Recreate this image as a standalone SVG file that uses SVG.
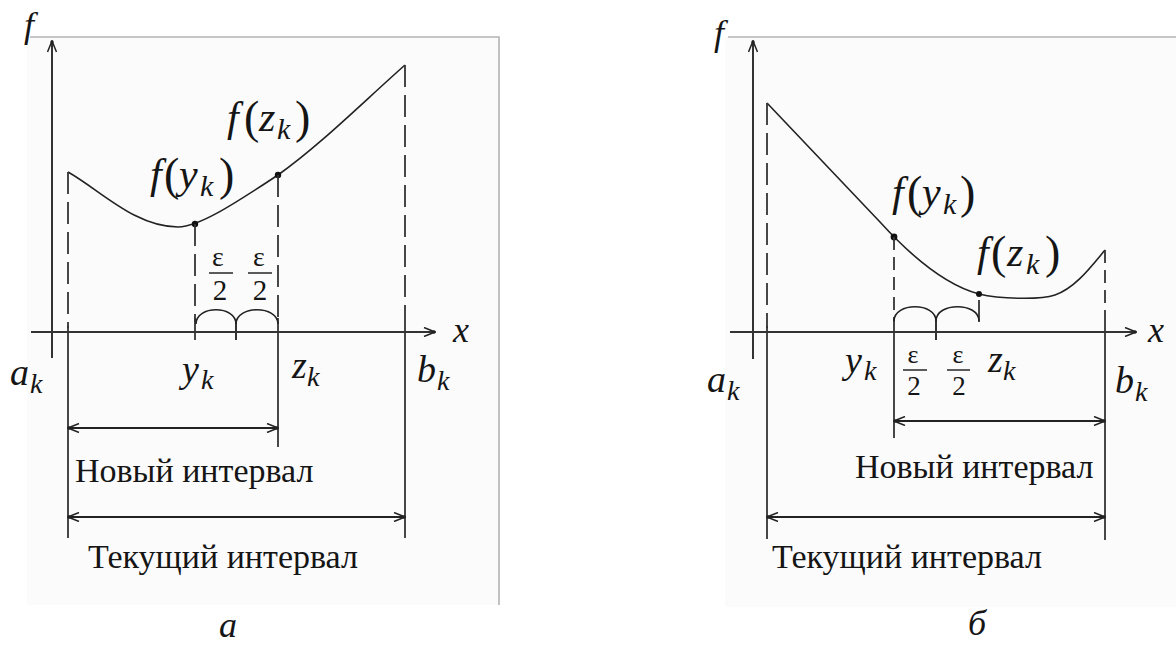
<svg xmlns="http://www.w3.org/2000/svg" width="1176" height="646" viewBox="0 0 1176 646" font-family="Liberation Serif, Times New Roman, DejaVu Serif, serif">
<style>
.frame{fill:none;stroke:#b4b4b4;stroke-width:1.6}
.ax{fill:none;stroke:#333;stroke-width:2}
.sol{fill:none;stroke:#333;stroke-width:1.8}
.dash{fill:none;stroke:#333;stroke-width:1.8;stroke-dasharray:22 8}
.dash2{fill:none;stroke:#333;stroke-width:1.8;stroke-dasharray:13 7}
.crv{fill:none;stroke:#222;stroke-width:1.6}
.iv{fill:none;stroke:#222;stroke-width:2.2}
.m{font-style:italic;fill:#151515}
.t{fill:#151515}
.p{fill:#151515;font-size:46px;font-style:normal}
.dot{fill:#111}
</style>
<defs>
<marker id="ah" viewBox="0 0 13 10" refX="12" refY="5" markerWidth="13" markerHeight="10" markerUnits="userSpaceOnUse" orient="auto-start-reverse">
<path d="M1,0.5 L12,5 L1,9.5" fill="none" stroke="#222" stroke-width="1.5"/>
<circle cx="11" cy="5" r="1.7" fill="#222"/>
</marker>
</defs>
<rect width="1176" height="646" fill="#fff"/>

<!-- panel a -->
<g id="panel-a-frame">
<rect x="27" y="37" width="472" height="568" fill="#fbfbfb"/>
<path class="frame" d="M30,37 H499 V605"/>
</g>
<g id="panel-a-axes" font-family="Liberation Serif, serif">
<line class="ax" x1="52" y1="358" x2="52" y2="41" marker-end="url(#ah)"/>
<line class="ax" x1="31" y1="332" x2="435" y2="332" marker-end="url(#ah)"/>
<text class="m" x="24" y="37" font-size="36">f</text>
<text class="m" x="453" y="342" font-size="36">x</text>
</g>
<g id="panel-a-curve">
<path class="crv" d="M68,172 C100,190 135,227 178,227 C200,227 240,200 278,175 C320,145 360,105 405,65"/>
<circle class="dot" cx="195" cy="224" r="3.2"/>
<circle class="dot" cx="278" cy="175" r="3.2"/>
</g>
<g id="panel-a-lines">
<line class="dash" x1="68" y1="172" x2="68" y2="328"/>
<line class="sol" x1="68" y1="326" x2="68" y2="538"/>
<line class="dash" x1="195" y1="224" x2="195" y2="322"/>
<line class="sol" x1="195" y1="318" x2="195" y2="340"/>
<line class="dash" x1="278" y1="175" x2="278" y2="322"/>
<line class="sol" x1="278" y1="318" x2="278" y2="447"/>
<line class="dash" x1="405" y1="65" x2="405" y2="320"/>
<line class="sol" x1="405" y1="320" x2="405" y2="538"/>
<line class="ax" x1="236" y1="320" x2="236" y2="340"/>
<path class="crv" d="M196,324 C196,305 236,305 236,324 C236,305 278,305 278,324"/>
</g>
<g id="panel-a-eps" font-family="Liberation Serif, serif">
<text class="t" x="218" y="266" font-size="28" text-anchor="middle">ε</text>
<line x1="209" y1="273" x2="233" y2="273" stroke="#333" stroke-width="1.6"/>
<text class="t" x="220" y="300" font-size="29" text-anchor="middle">2</text>
<text class="t" x="259" y="266" font-size="28" text-anchor="middle">ε</text>
<line x1="248" y1="273" x2="272" y2="273" stroke="#333" stroke-width="1.6"/>
<text class="t" x="260" y="300" font-size="29" text-anchor="middle">2</text>
</g>
<g id="panel-a-labels" font-family="Liberation Serif, serif">
<text class="m" font-size="42"><tspan x="150" y="188">f</tspan><tspan class="p" x="164" y="190">(</tspan><tspan x="179" y="188">y</tspan><tspan x="200" y="196" font-size="30">k</tspan><tspan class="p" x="219" y="190">)</tspan></text>
<text class="m" font-size="42"><tspan x="227" y="131">f</tspan><tspan class="p" x="244" y="133">(</tspan><tspan x="259" y="131">z</tspan><tspan x="277" y="139" font-size="30">k</tspan><tspan class="p" x="295" y="133">)</tspan></text>
<text class="m" font-size="38"><tspan x="10" y="385">a</tspan><tspan x="30" y="393" font-size="28">k</tspan></text>
<text class="m" font-size="38"><tspan x="182" y="382">y</tspan><tspan x="201" y="389" font-size="28">k</tspan></text>
<text class="m" font-size="38"><tspan x="292" y="378">z</tspan><tspan x="307" y="386" font-size="28">k</tspan></text>
<text class="m" font-size="38"><tspan x="417" y="382">b</tspan><tspan x="437" y="390" font-size="28">k</tspan></text>
</g>
<g id="panel-a-intervals" font-family="Liberation Serif, serif">
<line class="iv" x1="68" y1="428" x2="278" y2="428" marker-start="url(#ah)" marker-end="url(#ah)"/>
<text class="t" x="75" y="482" font-size="34">Новый интервал</text>
<line class="iv" x1="68" y1="517" x2="405" y2="517" marker-start="url(#ah)" marker-end="url(#ah)"/>
<text class="t" x="88" y="568" font-size="34">Текущий интервал</text>
<text class="m" x="228" y="637" font-size="36" text-anchor="middle">а</text>
</g>

<!-- panel b -->
<g id="panel-b-frame">
<rect x="725" y="37" width="451" height="570" fill="#fbfbfb"/>
<path class="frame" d="M728,37 H1176"/>
</g>
<g id="panel-b-axes" font-family="Liberation Serif, serif">
<line class="ax" x1="753" y1="359" x2="753" y2="41" marker-end="url(#ah)"/>
<line class="ax" x1="730" y1="332" x2="1136" y2="332" marker-end="url(#ah)"/>
<text class="m" x="714" y="45" font-size="36">f</text>
<text class="m" x="1148" y="342" font-size="36">x</text>
</g>
<g id="panel-b-curve">
<path class="crv" d="M767,103 L880,222 C910,255 945,285 979,294 C1000,299 1040,300 1055,295 C1075,288 1090,268 1105,250"/>
<circle class="dot" cx="894" cy="237" r="3.4"/>
<circle class="dot" cx="979" cy="294" r="3"/>
</g>
<g id="panel-b-lines">
<line class="dash" x1="767" y1="103" x2="767" y2="328"/>
<line class="sol" x1="767" y1="326" x2="767" y2="539"/>
<line class="dash2" x1="894" y1="237" x2="894" y2="322"/>
<line class="sol" x1="894" y1="318" x2="894" y2="438"/>
<line class="sol" x1="979" y1="300" x2="979" y2="322"/>
<line class="dash2" x1="1105" y1="250" x2="1105" y2="320"/>
<line class="sol" x1="1105" y1="320" x2="1105" y2="540"/>
<line class="ax" x1="936" y1="320" x2="936" y2="340"/>
<path class="crv" d="M894,321 C894,302 936,302 936,321 C936,302 979,302 979,321"/>
</g>
<g id="panel-b-eps" font-family="Liberation Serif, serif">
<text class="t" x="913" y="363" font-size="26" text-anchor="middle">ε</text>
<line x1="903" y1="370" x2="927" y2="370" stroke="#333" stroke-width="1.6"/>
<text class="t" x="914" y="395" font-size="27" text-anchor="middle">2</text>
<text class="t" x="958" y="363" font-size="26" text-anchor="middle">ε</text>
<line x1="947" y1="370" x2="970" y2="370" stroke="#333" stroke-width="1.6"/>
<text class="t" x="959" y="395" font-size="27" text-anchor="middle">2</text>
</g>
<g id="panel-b-labels" font-family="Liberation Serif, serif">
<text class="m" font-size="42"><tspan x="892" y="206">f</tspan><tspan class="p" x="907" y="208">(</tspan><tspan x="922" y="206">y</tspan><tspan x="943" y="214" font-size="30">k</tspan><tspan class="p" x="960" y="208">)</tspan></text>
<text class="m" font-size="42"><tspan x="977" y="266">f</tspan><tspan class="p" x="991" y="268">(</tspan><tspan x="1007" y="266">z</tspan><tspan x="1026" y="274" font-size="30">k</tspan><tspan class="p" x="1045" y="268">)</tspan></text>
<text class="m" font-size="38"><tspan x="707" y="392">a</tspan><tspan x="727" y="400" font-size="28">k</tspan></text>
<text class="m" font-size="38"><tspan x="845" y="373">y</tspan><tspan x="864" y="380" font-size="28">k</tspan></text>
<text class="m" font-size="38"><tspan x="988" y="372">z</tspan><tspan x="1003" y="380" font-size="28">k</tspan></text>
<text class="m" font-size="38"><tspan x="1115" y="393">b</tspan><tspan x="1135" y="401" font-size="28">k</tspan></text>
</g>
<g id="panel-b-intervals" font-family="Liberation Serif, serif">
<line class="iv" x1="894" y1="421" x2="1105" y2="421" marker-start="url(#ah)" marker-end="url(#ah)"/>
<text class="t" x="855" y="478" font-size="34">Новый интервал</text>
<line class="iv" x1="767" y1="517" x2="1105" y2="517" marker-start="url(#ah)" marker-end="url(#ah)"/>
<text class="t" x="772" y="568" font-size="34">Текущий интервал</text>
<text class="m" x="977" y="635" font-size="36" text-anchor="middle">б</text>
</g>
</svg>
